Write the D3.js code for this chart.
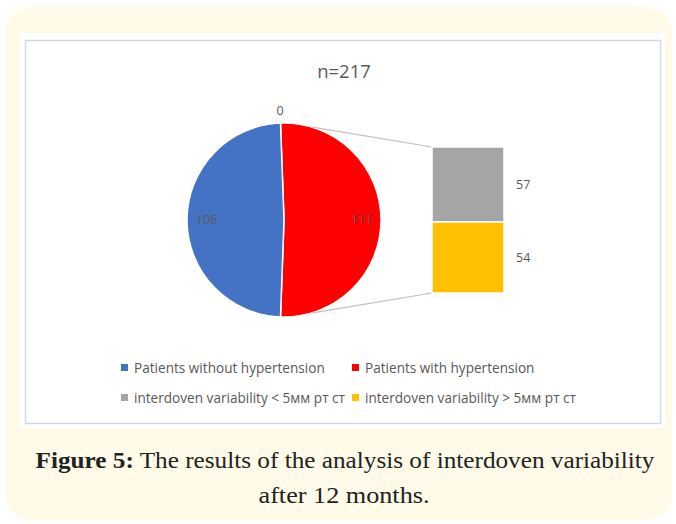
<!DOCTYPE html>
<html>
<head>
<meta charset="utf-8">
<script src="https://cdn.jsdelivr.net/npm/d3@7"></script>
<style>
  body { margin: 0; background: #fff; }
</style>
</head>
<body>
<div class="chart"></div>
<script>
    /*Data*/
    const mainLabels = ["Patients without hypertension", "Patients with hypertension"];
    const mainValues = [106, 0];
    const subLabels = ["interdoven variability < 5мм рт ст", "interdoven variability > 5мм рт ст"];
    const subValues = [57, 54];
    const colors = ["#4472c4", "#ff0000", "#a5a5a5", "#ffc000"];
    const title = "n=217";

    const W = 676, H = 524;

    const svg = d3.select(".chart").append("svg")
    .attr("width", W)
    .attr("height", H);

    /*Frame*/
    svg.append("rect")
    .attr("x", 5).attr("y", 7)
    .attr("width", 667).attr("height", 513)
    .attr("rx", 26).attr("ry", 26)
    .attr("fill", "#fffbe8");

    svg.append("rect")
    .attr("x", 20).attr("y", 33)
    .attr("width", 645).attr("height", 395)
    .attr("fill", "#ffffff");

    svg.append("rect")
    .attr("x", 25.5).attr("y", 40.5)
    .attr("width", 635).attr("height", 383)
    .attr("fill", "none")
    .attr("stroke", "#d9d9d9")
    .attr("stroke-width", 1.5);

    svg.append("text")
    .attr("x", 344).attr("y", 78)
    .attr("text-anchor", "middle")
    .attr("font-family", "Open Sans, sans-serif")
    .attr("font-size", 18.5)
    .attr("fill", "#595959")
    .text(title);

    /*Pie*/
    const cx = 284, cy = 220, r = 97;
    const otherValue = d3.sum(subValues);
    const pieData = [
        {name: mainLabels[1], value: otherValue, color: colors[1]},
        {name: mainLabels[0], value: mainValues[0], color: colors[0]},
        {name: mainLabels[1], value: mainValues[1], color: colors[1], zero: true}
    ];
    const total = d3.sum(pieData, d => d.value);
    const otherSpan = 2 * Math.PI * otherValue / total;
    const start = Math.PI / 2 - otherSpan / 2;

    const pie = d3.pie().sort(null).value(d => d.value)
    .startAngle(start).endAngle(start + 2 * Math.PI);
    const arcs = pie(pieData);

    const arc = d3.arc().innerRadius(0).outerRadius(r);
    const labelArc = d3.arc().innerRadius(r * 0.8).outerRadius(r * 0.8);
    const outArc = d3.arc().innerRadius(r + 12).outerRadius(r + 12);

    const pg = svg.append("g").attr("transform", `translate(${cx},${cy})`);

    pg.selectAll("path")
    .data(arcs.filter(d => d.data.value > 0))
    .enter()
    .append("path")
    .attr("d", arc)
    .attr("fill", d => d.data.color)
    .attr("stroke", "#fff")
    .attr("stroke-width", 1.5);

    pg.selectAll(".lbl")
    .data(arcs)
    .enter()
    .append("text")
    .attr("class", "lbl")
    .attr("transform", d => `translate(${(d.data.zero ? outArc : labelArc).centroid(d)})`)
    .attr("text-anchor", "middle")
    .attr("dy", "0.35em")
    .attr("font-family", "Open Sans, sans-serif")
    .attr("font-size", 12.5)
    .attr("fill", "#595959")
    .text(d => d.data.value);

    /*Stacked bar*/
    const bx = 432, bw = 72;
    const yScale = d3.scaleLinear().domain([0, otherValue]).range([147, 293]);
    let acc = 0;
    const stack = subValues.map((v, i) => {
        const o = {v: v, y0: acc, y1: acc + v, color: colors[2 + i]};
        acc += v;
        return o;
    });

    // connector lines, from the pie edge to the bar corners
    function edgePoint(px, py, upper) {
        const dx = px - cx, dy = py - cy;
        const d = Math.sqrt(dx * dx + dy * dy);
        const base = Math.atan2(dy, dx);
        const a = Math.acos(r / d) * 0.88;
        const ang = upper ? base - a : base + a;
        return [cx + r * Math.cos(ang), cy + r * Math.sin(ang)];
    }
    const topPt = edgePoint(bx, yScale(0), true);
    const botPt = edgePoint(bx, yScale(otherValue), false);
    svg.append("line")
    .attr("x1", topPt[0]).attr("y1", topPt[1])
    .attr("x2", bx).attr("y2", yScale(0))
    .attr("stroke", "#bfbfbf").attr("stroke-width", 1.2);
    svg.append("line")
    .attr("x1", botPt[0]).attr("y1", botPt[1])
    .attr("x2", bx).attr("y2", yScale(otherValue))
    .attr("stroke", "#bfbfbf").attr("stroke-width", 1.2);

    svg.selectAll(".seg")
    .data(stack)
    .enter()
    .append("rect")
    .attr("class", "seg")
    .attr("x", bx)
    .attr("y", d => yScale(d.y0))
    .attr("width", bw)
    .attr("height", d => yScale(d.y1) - yScale(d.y0))
    .attr("fill", d => d.color)
    .attr("stroke", "#fff")
    .attr("stroke-width", 1.5);

    svg.selectAll(".seglbl")
    .data(stack)
    .enter()
    .append("text")
    .attr("class", "seglbl")
    .attr("x", bx + bw + 12)
    .attr("y", d => yScale((d.y0 + d.y1) / 2))
    .attr("dy", "0.35em")
    .attr("font-family", "Open Sans, sans-serif")
    .attr("font-size", 12.5)
    .attr("fill", "#595959")
    .text(d => d.v);

    /*Legend*/
    const legendItems = mainLabels.concat(subLabels);
    const lg = svg.append("g");
    legendItems.forEach((t, i) => {
        const lx = i % 2 === 0 ? 121 : 352;
        const ly = i < 2 ? 368 : 398;
        lg.append("rect")
        .attr("x", lx).attr("y", ly - 4)
        .attr("width", 7).attr("height", 7)
        .attr("fill", colors[i]);
        lg.append("text")
        .attr("x", lx + 13).attr("y", ly)
        .attr("dy", "0.35em")
        .attr("font-family", "Open Sans, sans-serif")
        .attr("font-size", 13.6)
        .attr("fill", "#595959")
        .text(t);
    });

    /*Caption*/
    const cap = svg.append("text")
    .attr("x", 345).attr("y", 468)
    .attr("text-anchor", "middle")
    .attr("font-family", "Liberation Serif, serif")
    .attr("font-size", 23)
    .attr("fill", "#222")
    .attr("textLength", 619)
    .attr("lengthAdjust", "spacingAndGlyphs");
    cap.append("tspan").attr("font-weight", "bold").text("Figure 5:");
    cap.append("tspan").text(" The results of the analysis of interdoven variability");

    svg.append("text")
    .attr("x", 344).attr("y", 503)
    .attr("text-anchor", "middle")
    .attr("font-family", "Liberation Serif, serif")
    .attr("font-size", 23)
    .attr("fill", "#222")
    .attr("textLength", 171)
    .attr("lengthAdjust", "spacingAndGlyphs")
    .text("after 12 months.");
</script>
</body>
</html>
